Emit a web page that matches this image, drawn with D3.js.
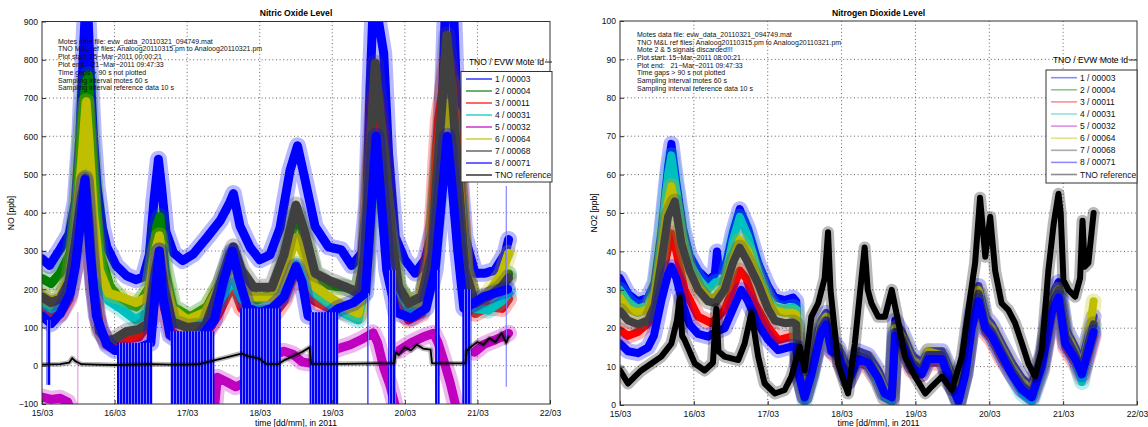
<!DOCTYPE html>
<html>
<head>
<meta charset="utf-8">
<script src="https://cdn.jsdelivr.net/npm/d3@7"></script>
<style>
  body { margin: 0; background: #fff; }
  svg { display: block; font-family: "Liberation Sans", Arial, sans-serif; }
</style>
</head>
<body>
<svg id="chart" width="1148" height="427"></svg>
<script>
// time is in hours since 15/03/2011 00:00
const dayLabels = ["15/03", "16/03", "17/03", "18/03", "19/03", "20/03", "21/03", "22/03"];
const tickHours = [0, 24, 48, 72, 96, 120, 144, 168];
const noTicks = [-100, 0, 100, 200, 300, 400, 500, 600, 700, 800, 900];
const no2Ticks = [0, 10, 20, 30, 40, 50, 60, 70, 80, 90, 100];

const moteIds = ["1 / 00003", "2 / 00004", "3 / 00011", "4 / 00031", "5 / 00032",
                 "6 / 00064", "7 / 00068", "8 / 00071", "TNO reference"];
const seriesColors = ["#0000ff", "#008000", "#ff0000", "#00bfbf", "#bf00bf",
                      "#bfbf00", "#404040", "#0000ff", "#000000"];

const notesNO = [
  "Motes data file: evw_data_20110321_094749.mat",
  "TNO M&L ref files: Analoog20110315.pm to Analoog20110321.pm",
  "Plot start: 15\u2212Mar\u22122011 00:00:21",
  "Plot end:   21\u2212Mar\u22122011 09:47:33",
  "Time gaps > 90 s not plotted",
  "Sampling interval motes 60 s",
  "Sampling interval reference data 10 s"
];
const notesNO2 = [
  "Motes data file: evw_data_20110321_094749.mat",
  "TNO M&L ref files: Analoog20110315.pm to Analoog20110321.pm",
  "Mote 2 & 5 signals discarded!!!",
  "Plot start: 15\u2212Mar\u22122011 08:00:21",
  "Plot end:   21\u2212Mar\u22122011 09:47:33",
  "Time gaps > 90 s not plotted",
  "Sampling interval motes 60 s",
  "Sampling interval reference data 10 s"
];

// ---- NO [ppb] ----
const noS1 = [[0,280],[2.5,262],[6,305],[9,345],[11,430],[12.5,600],[13.7,820],[14.5,960],[15.3,900],[16,760],[17,600],[18.2,470],[20,360],[21.5,310],[24.5,262],[28,235],[31,225],[33.5,232],[35.5,290],[37,430],[38.5,540],[39.5,470],[41,350],[43.5,295],[46.5,275],[50,292],[54.5,335],[59,380],[62,425],[63.3,450],[65.5,365],[68.8,310],[72,277],[75.4,290],[78.7,360],[82,510],[84.5,575],[87,486],[90.3,364],[94.7,311],[99,303],[102.4,262],[105.8,295],[107.4,425],[108.5,730],[109.6,960],[111.3,900],[113,817],[114.6,555],[116.8,337],[120,277],[123.4,242],[126.7,277],[130,381],[132.2,643],[133.5,960],[136,960],[137.7,555],[139.9,337],[143.2,242],[146.5,242],[149.8,250],[153.2,294],[154.3,330]];
const noS2 = [[0,228],[3,215],[6,242],[9.3,294],[11.5,425],[13.2,640],[14.5,740],[15.3,760],[16,640],[17,512],[19.2,294],[22.5,207],[27,165],[31.3,154],[35.7,207],[37.9,364],[39,390],[40.7,250],[43.4,154],[49,128],[54.5,154],[58.9,215],[62.7,294],[65.5,242],[71,172],[76.5,189],[81,294],[84.2,400],[87,330],[90,240],[95,210],[100,205],[104.6,195],[107,290],[108.8,520],[110.5,650],[112,560],[114,380],[117,210],[121,165],[125.6,180],[129,300],[131.5,560],[134,730],[135.5,740],[137.7,480],[140,250],[143,165],[147.6,180],[152,210],[154.3,240]];
const noS3 = [[0,140],[3,125],[6,135],[9,175],[11,260],[12.7,380],[14.3,480],[15.5,380],[17,220],[19,100],[21.5,60],[24,55],[28,70],[32,75],[36,120],[38,200],[39,225],[40.5,150],[43,85],[48,70],[54,80],[58,130],[62,195],[63.5,205],[66,150],[70,125],[76,125],[80,170],[84,250],[87,210],[90,170],[95,150],[100,140],[104.6,130],[107,250],[108.5,512],[110.2,704],[111.8,616],[113.5,420],[115.7,250],[117.9,163],[121.2,120],[125.6,137],[128.9,346],[131.1,643],[133.9,795],[135.5,730],[137.7,538],[139.9,250],[143.2,137],[147.6,154],[152.1,150],[154.3,175]];
const noS4 = [[0,165],[3,150],[6,160],[9,200],[11,300],[13,440],[14.5,540],[15.5,470],[17,330],[19,220],[22,170],[26,150],[31,120],[35,140],[37.5,260],[39,310],[40.5,220],[43,140],[48,110],[54,115],[58,160],[62,210],[63.5,220],[66,175],[70,145],[76,150],[80,190],[84,265],[87,242],[90.3,189],[94.7,163],[100,137],[104.6,120],[107,220],[108.5,400],[110.2,486],[111.8,425],[113.5,381],[115.7,294],[117.9,200],[121.2,150],[125.6,145],[128.9,250],[131.1,430],[133.9,538],[135.5,512],[137.7,451],[139.9,224],[143.2,150],[147.6,145],[152.1,170],[154.3,190]];
const noS5 = [[0,-82],[3,-88],[6,-85],[8.5,-95],[9.5,-115],[10,null],[57,-115],[58,-30],[61,-42],[64,-55],[67,-45],[70,-15],[73,10],[76,25],[80,38],[83,30],[86,10],[90,5],[94,30],[98,45],[102,55],[106,70],[109.5,86],[111,60],[113,-5],[115,-50],[117,-110],[117.5,null],[118,40],[122,60],[126,75],[129.5,85],[131,60],[133,10],[135,-45],[137,-110],[138,null],[143,35],[146,55],[149,65],[152,75],[154.3,85]];
const noS5Spikes = [[11.85,-100,140]];
const noS6 = [[0,185],[3,170],[6,180],[9,230],[11,340],[13,520],[14.6,690],[15.6,580],[17,400],[19,250],[22,190],[26,180],[31,165],[35,180],[37.5,300],[38.8,340],[40.5,230],[43,150],[48,120],[54,140],[58,200],[62,255],[63.5,262],[66,210],[70,180],[76,180],[80,240],[84,335],[87,280],[90.3,207],[94.7,181],[100.2,154],[104.6,137],[107,250],[108.5,430],[110.2,573],[111.8,520],[113.5,430],[115.7,300],[117.9,200],[121.2,170],[125.6,160],[128.9,280],[131.1,500],[133.9,686],[135.5,660],[137.7,500],[139.9,250],[143.2,170],[147.6,190],[152.1,242],[154.3,294]];
const noS7 = [[0,180],[3,165],[6,175],[9,220],[11,320],[13,440],[14.3,490],[15.5,380],[17,200],[19,90],[21.5,65],[24,70],[28,90],[32,95],[35,110],[37.5,250],[38.8,300],[40.5,200],[43,115],[48,100],[54,105],[58,190],[62,290],[63.3,311],[66,250],[70,205],[76,205],[80,290],[84,420],[87,346],[90.3,242],[94.7,224],[100.2,207],[104.6,189],[106.8,294],[108.5,555],[110.2,791],[111.8,660],[113.5,538],[115.7,337],[117.9,207],[121.2,163],[125.6,181],[128.9,294],[131.1,555],[133.9,865],[135.5,730],[137.7,486],[139.9,250],[143.2,163],[147.6,181],[152.1,207],[154.3,230]];
const noS8 = [[0,130],[3,110],[6,137],[9.3,189],[11,260],[12.6,364],[14.2,486],[15.9,294],[18,130],[21.4,55],[24,40],[30,40],[36,60],[37.5,200],[38.8,300],[40,180],[42.3,80],[46,60],[52,70],[57,120],[60,220],[63,300],[65,230],[68,150],[72,140],[76,150],[80,180],[84,260],[86,220],[88,130],[93,120],[98,150],[103,165],[107,190],[108.8,400],[110.5,600],[112,450],[114,250],[117,140],[122,125],[127,150],[130,250],[132,420],[134,600],[135.5,480],[137.5,300],[139.5,150],[142,160],[146,180],[150,190],[154,200]];
const noRef = [[0,3],[6,4],[9,8],[10,20],[11,12],[13,4],[18,3],[24,2],[30,3],[36,4],[42,3],[48,3],[52,4],[55,10],[58,16],[61,22],[64,28],[66,32],[68,25],[70,22],[72,18],[74,5],[78,4],[80,14],[83,25],[86,36],[88.5,48],[89,5],[100,5],[110,6],[116.5,6],[117,35],[118,28],[120,48],[122,40],[124,55],[126,45],[128.5,42],[129,6],[140,6],[140.5,40],[142,50],[144,62],[146,55],[148,72],[150,62],[152,85],[153.5,60],[154.3,75]];
// mote 8 signal drops: [from h, to h, top, bottom]
const noS8Drops = [[1.5,2.8,120,-50],[24.8,36.5,60,-100],[42.5,57,90,-100],[65.5,79,150,-100],[88.5,98,140,-100],[107.6,108.1,190,-100],[114.5,117,250,-100],[130,131.5,250,-100],[139,142,200,-100],[153.4,153.7,470,-55]];

// ---- NO2 [ppb] ----
const no2S1 = [[0,33],[2.6,29],[5.8,27],[9.1,28],[11.3,32],[13.4,45],[15.6,62],[16.7,68],[18.3,58],[20.5,46],[22.6,39],[25.4,35],[28.6,32.5],[30.8,34],[31.5,40],[32.3,35],[34,35],[36.7,45],[38.9,51],[41.6,46],[44.9,37],[48.1,31],[50.3,28],[53.5,27.3],[56.2,28],[57.3,27],[58,12],[60,4],[62.2,10],[65.4,22],[67,24],[68.7,17],[70.9,15],[74.1,9],[77.4,14],[80.6,13],[83.9,9],[86,5],[88.3,4],[89.4,22],[91.6,19],[94.8,13],[98,11],[100.2,14],[104.6,14],[107.8,8],[110,3],[112.2,11],[114.3,24],[116.5,31],[118.7,23],[120.8,21],[124,16],[127.3,11],[130.6,7],[133.8,5],[137.1,13],[140.3,28],[142.5,32],[144.7,20],[147.9,15],[150.1,11],[152.2,18],[153.9,23]];
const no2S2 = [];
const no2S3 = [[0,19.5],[2.6,18],[5.8,19],[10.2,22],[13.4,32.5],[16.7,44.7],[18.3,40],[21,30],[25.4,23],[29.7,21.3],[34,24.7],[38.9,35],[41,33],[43.8,26.5],[48,20.4],[51.4,16.9],[55.7,17.8],[57.3,18],[58,8],[60,2],[62.2,8],[65.4,19],[67,21],[68.7,14],[70.9,12],[74.1,6],[77.4,11],[80.6,10],[83.9,6],[86,2],[88.3,1],[89.4,17],[91.6,15],[94.8,9],[98,8],[100.2,11],[104.6,11],[107.8,5],[110,1],[112.2,8],[114.3,20],[116.5,26],[118.7,19],[120.8,17],[124,12],[127.3,8],[130.6,4],[133.8,2],[137.1,9],[140.3,23],[142.5,27],[144.7,15],[147.9,11],[150.1,7],[152.2,13],[153.9,18]];
const no2S4 = [[0,30],[2.6,27],[5.8,25],[9.1,26],[11.3,30],[13.4,43],[15.6,60],[16.7,65],[18.3,56],[20.5,44],[22.6,37],[25.4,33],[28.6,30],[31,32],[34,32.5],[36.7,43],[38.9,49],[41.6,44],[44.9,34.5],[48.1,28],[50.3,25.5],[53.5,25],[56.2,25.5],[57.3,25],[58,9],[60,1],[62.2,7],[65.4,20],[67,22],[68.7,15],[70.9,13],[74.1,6],[77.4,12],[80.6,11],[83.9,6],[86,2],[88.3,1],[89.4,19],[91.6,16],[94.8,10],[98,9],[100.2,12],[104.6,12],[107.8,5],[110,0.5],[112.2,8],[114.3,21],[116.5,28],[118.7,20],[120.8,18],[124,13],[127.3,8],[130.6,3],[133.8,1],[137.1,9],[140.3,25],[142.5,29],[144.7,17],[147.9,12],[150.1,6],[152.2,15],[153.9,20]];
const no2S5 = [];
const no2S6 = [[0,28],[2.6,25],[5.8,24],[9.1,25],[11.3,29],[13.4,40],[15.6,53],[16.7,57],[18.3,50],[20.5,41],[22.6,35],[25.4,31],[28.6,28],[31,28],[34,31],[36.7,38],[38.9,43],[41.6,40],[44.9,33],[48.1,27],[50.3,24.7],[53.5,24],[56.2,24],[57.3,23.5],[58,10],[60,3],[62.2,9],[65.4,21],[67,23],[68.7,16],[70.9,14],[74.1,8],[77.4,13],[80.6,12],[83.9,8],[86,4],[88.3,3],[89.4,20],[91.6,18],[94.8,12],[98,10],[100.2,14],[104.6,13],[107.8,7],[110,2],[112.2,10],[114.3,22],[116.5,30],[118.7,22],[120.8,20],[124,15],[127.3,10],[130.6,6],[133.8,4],[137.1,12],[140.3,27],[142.5,30],[144.7,19],[147.9,14],[150.1,10],[152.2,17],[153.9,27]];
const no2S7 = [[0,24.5],[2.6,22],[5.8,21],[9.1,22],[11.3,26],[13.4,37],[15.6,49],[17.8,53],[20,42],[22.6,35],[25.4,30],[28.6,27],[31,26.5],[34,30],[36.7,37],[38.9,41],[41.6,37],[44.9,31.5],[48.1,25],[50.3,22],[53.5,21.3],[56.2,21.5],[57.3,21],[58,9],[60,2],[62.2,9],[65.4,20],[67,22],[68.7,15],[70.9,14],[74.1,7],[77.4,13],[80.6,12],[83.9,7],[86,3],[88.3,2],[89.4,19],[91.6,17],[94.8,11],[98,9],[100.2,13],[104.6,13],[107.8,6],[110,1],[112.2,9],[114.3,22],[116.5,29],[118.7,21],[120.8,19],[124,14],[127.3,9],[130.6,5],[133.8,3],[137.1,11],[140.3,26],[142.5,30],[144.7,18],[147.9,13],[150.1,9],[152.2,16],[153.9,21]];
const no2S8 = [[0,16],[2.6,14],[5.8,13.5],[9.1,15],[11,18],[13.4,27],[15.6,34],[16.7,36],[18.3,33],[20.5,26],[22.6,21],[25.4,18.5],[28.6,17.8],[31,19],[34,20],[36.7,25],[39.4,30],[41.6,27],[44.9,21],[48.1,17],[51.4,14.3],[55.7,15.2],[57.3,15],[58,8],[60,2],[62.2,8],[65.4,19],[67,21],[68.7,14],[70.9,13],[74.1,6],[77.4,12],[80.6,11],[83.9,7],[86,3],[88.3,2],[89.4,18],[91.6,16],[94.8,10],[98,8],[100.2,12],[104.6,12],[107.8,5],[110,1],[112.2,8],[114.3,20],[116.5,27],[118.7,20],[120.8,18],[124,13],[127.3,8],[130.6,4],[133.8,2],[137.1,10],[140.3,24],[142.5,28],[144.7,16],[147.9,12],[150.1,8],[152.2,14],[153.9,19]];
const no2Ref = [[0,9],[2.6,5.6],[4.8,7.4],[6.9,9],[10.2,10.8],[13.4,12.6],[16.7,16],[18.5,22],[19.4,28],[20.2,18],[21,16.9],[24.3,10.8],[27.5,9],[30.2,11],[31.3,25],[32,14],[34,12.6],[38.4,11.7],[40.5,16],[42.7,24],[44.9,12.6],[47,5.6],[50.3,3],[53.5,3.9],[55.7,7.4],[58.4,15.2],[60,9],[62.2,23],[64.4,26.5],[66.5,33],[67.6,45],[68.4,30],[70.9,10.8],[73,5.6],[74.1,3],[76.3,16],[78.4,32.5],[79.5,41],[80.5,30],[81.7,26.5],[83.9,23],[86.1,23],[88.3,30],[90.5,21.3],[92.6,12.6],[95.9,7.4],[99.2,3],[101.3,4.8],[104.6,7.4],[107.8,3.9],[111.1,12.6],[113.8,28.2],[115.4,37],[117,54],[118.7,38.6],[120.3,49],[121.9,35],[124,26.5],[126.2,24.7],[128.4,21.3],[130.6,16],[132.7,10.8],[134.9,7.4],[137.1,14.3],[139.2,35],[140.9,47],[142.5,55],[143.2,50],[144.1,32.5],[145.7,30],[147.9,28.2],[149.5,33],[150.3,48],[151,36],[152.2,37],[153.9,50]];

const svg = d3.select("#chart");
svg.append("rect").attr("width", 1148).attr("height", 427).attr("fill", "#fff");

// streaky fill for the signal drop-outs of mote 8
const pat = svg.append("defs").append("pattern").attr("id", "dropStripes")
  .attr("patternUnits", "userSpaceOnUse").attr("width", 3).attr("height", 8);
pat.append("rect").attr("width", 2).attr("height", 8).attr("fill", "#0000ff");
pat.append("rect").attr("x", 2).attr("width", 1).attr("height", 8).attr("fill", "#8080ff");

function minus(v) { return v < 0 ? "\u2212" + Math.abs(v) : String(v); }

function drawPanel(o) {
  const g = svg.append("g");
  const x = d3.scaleLinear().domain([0, 168]).range([o.left, o.right]);
  const y = d3.scaleLinear().domain([o.yTicks[0], o.yTicks[o.yTicks.length - 1]]).range([o.bottom, o.top]);

  // dotted grid
  const grid = g.append("g").attr("stroke", "#3c3c3c").attr("stroke-width", 0.8)
    .attr("stroke-dasharray", "1,2.6");
  grid.selectAll(".gx").data(tickHours.slice(1, -1)).join("line")
    .attr("x1", d => x(d)).attr("x2", d => x(d)).attr("y1", o.top).attr("y2", o.bottom);
  grid.selectAll(".gy").data(o.yTicks.slice(1, -1)).join("line")
    .attr("x1", o.left).attr("x2", o.right).attr("y1", d => y(d)).attr("y2", d => y(d));

  const clipId = "clip" + o.id;
  svg.append("clipPath").attr("id", clipId).append("rect")
    .attr("x", o.left).attr("y", o.top).attr("width", o.right - o.left).attr("height", o.bottom - o.top);
  const plot = g.append("g").attr("clip-path", `url(#${clipId})`);

  const line = d3.line().defined(d => d[1] != null).x(d => x(d[0])).y(d => y(d[1]));

  o.series.forEach((s, i) => {
    if (!s.length) return;
    const isRef = i === o.series.length - 1;
    const sg = plot.append("g").attr("fill", "none").attr("stroke", seriesColors[i])
      .attr("stroke-linejoin", "round").attr("stroke-linecap", "round");
    sg.append("path").attr("d", line(s)).attr("stroke-width", isRef ? o.refHalo : o.halo).attr("stroke-opacity", 0.28);
    sg.append("path").attr("d", line(s)).attr("stroke-width", isRef ? o.refCore : o.core);
    if (i === 7 && o.drops) {
      plot.selectAll(".drop").data(o.drops).join("rect")
        .attr("x", d => x(d[0])).attr("width", d => Math.max(1, x(d[1]) - x(d[0])))
        .attr("y", d => y(d[2])).attr("height", d => y(d[3]) - y(d[2]))
        .attr("fill", "url(#dropStripes)");
    }
  });
  if (o.spikes) {
    plot.selectAll(".spk").data(o.spikes).join("line")
      .attr("x1", d => x(d[0])).attr("x2", d => x(d[0])).attr("y1", d => y(d[1])).attr("y2", d => y(d[2]))
      .attr("stroke", seriesColors[4]).attr("stroke-opacity", 0.45).attr("stroke-width", 1);
  }

  // axes
  const ax = g.append("g").attr("transform", `translate(0,${o.bottom})`)
    .call(d3.axisBottom(x).tickValues(tickHours).tickFormat((d, i) => dayLabels[i]).tickSize(-4).tickPadding(6));
  const ay = g.append("g").attr("transform", `translate(${o.left},0)`)
    .call(d3.axisLeft(y).tickValues(o.yTicks).tickFormat(minus).tickSize(-4).tickPadding(4));
  [ax, ay].forEach(a => {
    a.select(".domain").remove();
    a.selectAll("line").attr("stroke", "#333");
    a.selectAll("text").attr("font-size", 8.6).attr("fill", "#111")
      .attr("font-family", "'Liberation Sans', Arial, sans-serif");
  });
  g.append("rect").attr("x", o.left).attr("y", o.top).attr("width", o.right - o.left)
    .attr("height", o.bottom - o.top).attr("fill", "none").attr("stroke", "#333").attr("stroke-width", 1);

  // titles
  const cx = (o.left + o.right) / 2;
  g.append("text").attr("x", cx).attr("y", 15.5).attr("text-anchor", "middle")
    .attr("font-size", 8.6).attr("font-weight", "bold").text(o.title);
  g.append("text").attr("x", cx).attr("y", 425.5).attr("text-anchor", "middle")
    .attr("font-size", 8.6).text("time [dd/mm], in 2011");
  g.append("text").attr("transform", `translate(${o.yLabelX},213) rotate(-90)`)
    .attr("text-anchor", "middle").attr("font-size", 8.6).text(o.yLabel);

  // notes
  g.append("g").selectAll("text").data(o.notes).join("text")
    .attr("x", o.noteX).attr("y", (d, i) => o.noteY + i * o.noteStep)
    .attr("font-size", 7).attr("fill", "#111").attr("xml:space", "preserve").text(d => d);

  // legend
  const L = o.legend;
  const lg = g.append("g");
  lg.append("text").attr("x", L.titleEnd).attr("y", L.titleY + 3).attr("text-anchor", "end")
    .attr("font-size", 8.5).text("TNO / EVW Mote Id");
  lg.append("line").attr("x1", L.titleEnd + 1).attr("x2", L.x + L.w).attr("y1", L.titleY).attr("y2", L.titleY)
    .attr("stroke", "#222");
  lg.append("rect").attr("x", L.x).attr("y", L.y).attr("width", L.w).attr("height", L.h)
    .attr("fill", "#fff").attr("stroke", "#333");
  const rows = lg.selectAll(".row").data(moteIds).join("g")
    .attr("transform", (d, i) => `translate(0,${L.row0 + i * L.rowStep})`);
  rows.append("line").attr("x1", L.x + 5).attr("x2", L.x + 31).attr("stroke-width", 1.6)
    .attr("stroke", (d, i) => seriesColors[i]).attr("stroke-opacity", L.fade);
  rows.append("text").attr("x", L.x + 34).attr("y", 3).attr("font-size", 8.5).attr("fill", "#111").text(d => d);
}

drawPanel({
  id: "no", left: 42, right: 550, top: 21.5, bottom: 404, yTicks: noTicks,
  series: [noS1, noS2, noS3, noS4, noS5, noS6, noS7, noS8, noRef],
  drops: noS8Drops, spikes: noS5Spikes,
  halo: 17, core: 9, refHalo: 5, refCore: 1.8,
  title: "Nitric Oxide Level", yLabel: "NO [ppb]", yLabelX: 14,
  notes: notesNO, noteX: 58, noteY: 43.5, noteStep: 7.8,
  legend: { x: 461, y: 71.5, w: 91, h: 110.5, row0: 79, rowStep: 12, titleEnd: 544, titleY: 62, fade: 0.75 }
});

drawPanel({
  id: "no2", left: 620, right: 1137, top: 21, bottom: 405, yTicks: no2Ticks,
  series: [no2S1, no2S2, no2S3, no2S4, no2S5, no2S6, no2S7, no2S8, no2Ref],
  halo: 16, core: 8, refHalo: 12, refCore: 6,
  title: "Nitrogen Dioxide Level", yLabel: "NO2 [ppb]", yLabelX: 597,
  notes: notesNO2, noteX: 637, noteY: 36.8, noteStep: 7.7,
  legend: { x: 1046, y: 70, w: 91, h: 113, row0: 77.7, rowStep: 12.1, titleEnd: 1128, titleY: 60, fade: 0.45 }
});
</script>
</body>
</html>
